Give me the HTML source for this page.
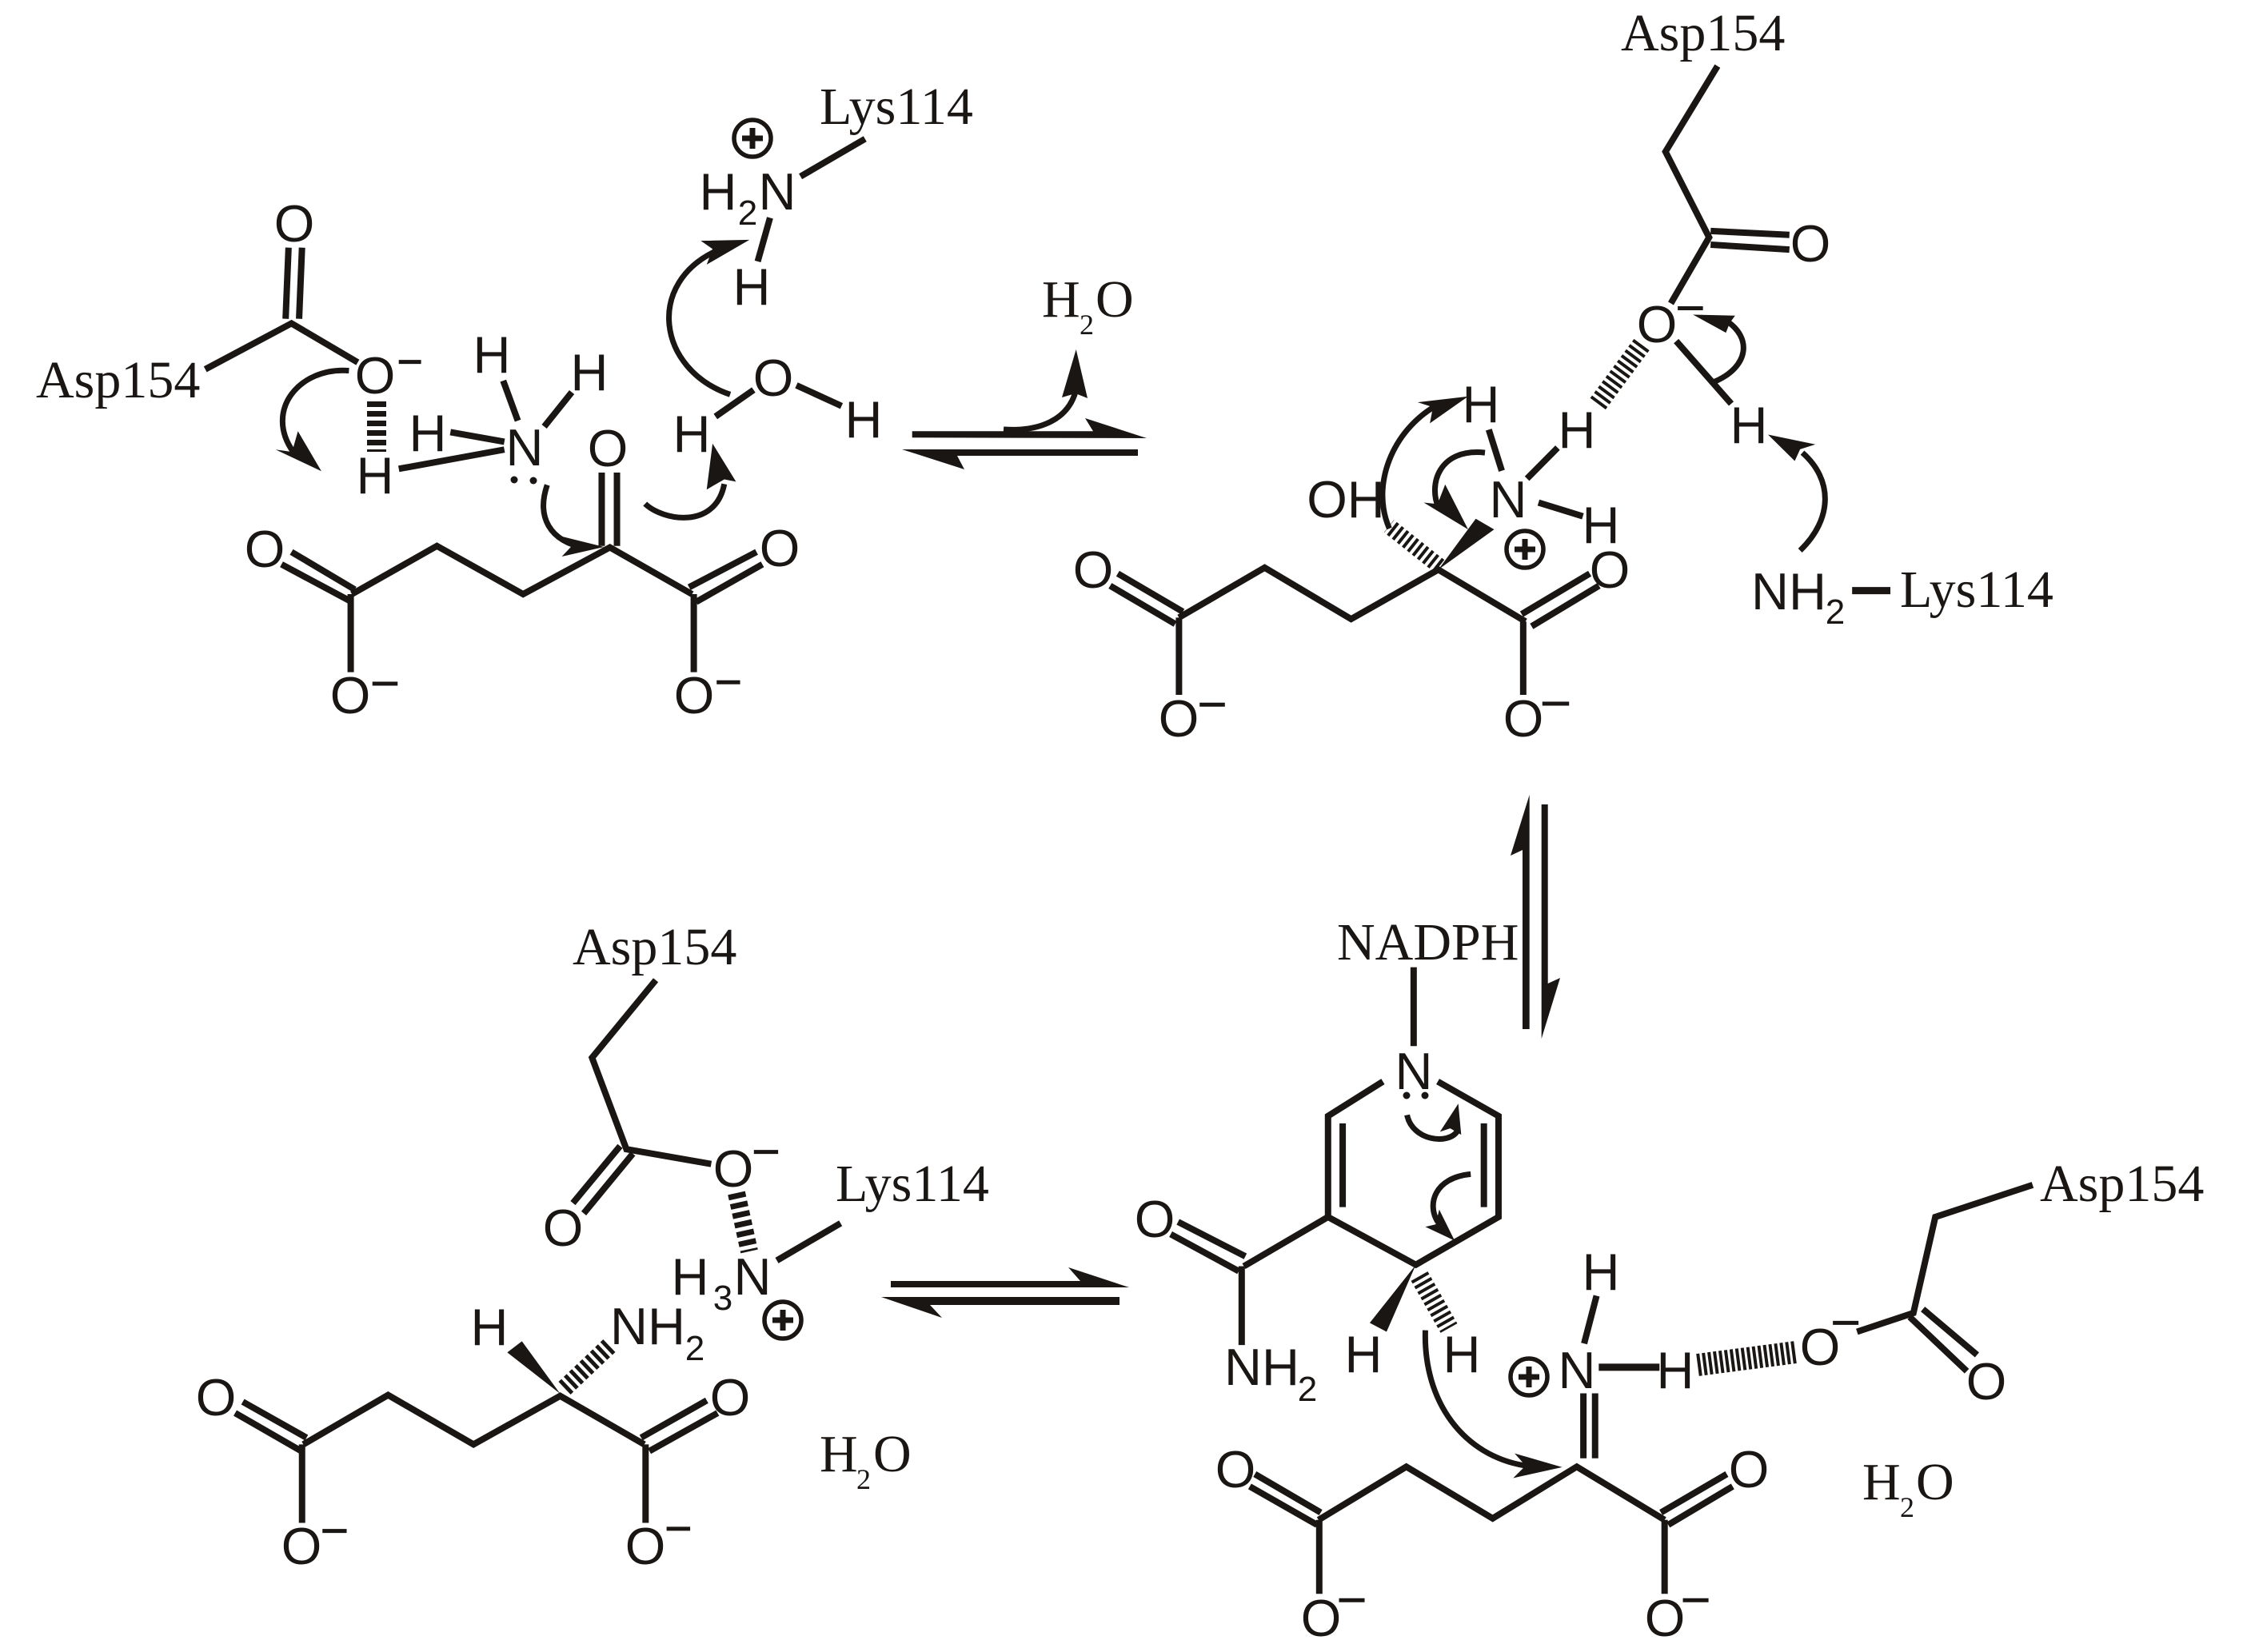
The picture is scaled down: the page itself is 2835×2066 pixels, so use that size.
<!DOCTYPE html>
<html>
<head>
<meta charset="utf-8">
<style>
html,body{margin:0;padding:0;background:#fff;}
svg{display:block;}
path,line,polyline{vector-effect:non-scaling-stroke;fill:none;stroke:#1a1614;stroke-width:8;stroke-linejoin:miter;}
polygon{fill:#1a1614;stroke:none;}
.a{stroke-width:7;}
.m{stroke-width:5;}
.s text,text.s{font-family:"Liberation Sans",sans-serif;font-size:65px;fill:#1a1614;text-anchor:middle;}
.sub{font-family:"Liberation Sans",sans-serif;font-size:44px;fill:#1a1614;text-anchor:middle;}
.r text{font-family:"Liberation Serif",serif;font-size:66px;fill:#1a1614;}
.r text.t2{font-size:36px;}
.h{stroke-width:24;}
</style>
</head>
<body>
<svg xmlns="http://www.w3.org/2000/svg" width="2835" height="2066" viewBox="0 0 2835 2066">
<defs>
<g id="plus"><circle r="23" fill="none" stroke="#1a1614" stroke-width="5.5"/><rect x="-13" y="-3.5" width="26" height="7" fill="#1a1614"/><rect x="-3.5" y="-13" width="7" height="26" fill="#1a1614"/></g>
</defs>
<rect width="2835" height="2066" fill="#fff"/>

<!-- Panel 1 -->
<g transform="translate(0,60) scale(.7334,.574)">
<path d="M350,700 L497,600 L610,685"/>
<path d="M487,590 L492,435 M510,590 L515,435"/>
<path d="M600,1190 L745,1085 L892,1190 L1040,1088 L1180,1190"/>
<path d="M480,1125 L600,1207 M497,1098 L605,1180"/>
<path d="M598,1190 L598,1360 M1183,1190 L1183,1360"/>
<path d="M1175,1175 L1290,1098 M1187,1207 L1300,1125"/>
<path d="M1026,1085 L1026,925 M1052,1085 L1052,925"/>
<path d="M858,725 L883,812 M975,750 L928,825 M768,837 L860,858 M680,917 L860,875"/>
<path d="M1365,280 L1475,198 M1313,370 L1292,465"/>
<path d="M1285,745 L1220,803 M1358,735 L1435,780"/>
<path class="m" d="M680,684 L718,684 M635,1385 L678,1385 M1222,1382 L1262,1382"/>
<path class="a" d="M595,703 C510,695 450,790 500,880"/>
<polygon points="548,922 470,875 498,880 508,835"/>
<path class="a" d="M933,952 C915,1020 935,1075 1000,1090"/>
<polygon points="1030,1087 960,1065 975,1085 958,1108"/>
<path class="a" d="M1100,993 C1130,1030 1220,1050 1235,950"/>
<polygon points="1215,862 1255,945 1235,940 1205,962"/>
<path class="a" d="M1245,755 C1120,700 1100,510 1225,440"/>
<polygon points="1278,418 1195,420 1215,438 1205,472"/>
</g>
<line class="h" x1="471" y1="502" x2="471" y2="565" style="stroke-dasharray:7 5"/>
<circle cx="643" cy="600" r="4.5" fill="#1a1614"/><circle cx="667" cy="601" r="4.5" fill="#1a1614"/>
<use href="#plus" x="941" y="173"/>
<g class="s">
<text x="368" y="302">O</text>
<text x="469" y="492">O</text>
<text x="469" y="617">H</text>
<text x="615" y="466">H</text>
<text x="737" y="488">H</text>
<text x="535" y="564">H</text>
<text x="656" y="582">N</text>
<text x="760" y="583">O</text>
<text x="331" y="709">O</text>
<text x="975" y="708">O</text>
<text x="438" y="892">O</text>
<text x="868" y="892">O</text>
<text x="898" y="262">H</text>
<text x="972" y="262">N</text>
<text x="940" y="381">H</text>
<text x="967" y="495">O</text>
<text x="865" y="565">H</text>
<text x="1080" y="547">H</text>
</g>
<text class="sub" x="935" y="281">2</text>
<g class="r">
<text x="45" y="497">Asp154</text>
<text x="1025" y="155">Lys114</text>
<text x="1303" y="396">H</text><text class="t2" x="1350" y="418">2</text><text x="1370" y="396">O</text>
</g>

<!-- Top equilibrium -->
<polygon points="1140.7,539.3 1367,539.3 1357,523 1434,548 1140.7,547.3"/>
<polygon points="1423,562 1128,562 1206,587 1197,570 1423,570"/>
<path class="a" d="M1255,537 C1300,540 1335,525 1345,490"/>
<polygon points="1345.7,437 1328,497 1345,492 1360,498"/>

<!-- Panel 2 -->
<g transform="translate(1130,0) scale(.9566,.612)">
<path d="M1064,135 L996,310 L1053,485 L1003,620"/>
<path d="M1055,472 L1158,480 M1055,500 L1158,510"/>
<path d="M765,878 L782,962 M855,915 L815,978 M830,1027 L888,1055"/>
<path d="M1010,697 L1082,825"/>
<path d="M360,1262 L472,1160 L585,1265 L699,1164 L813,1270"/>
<path d="M280,1172 L365,1250 M270,1197 L355,1275"/>
<path d="M808,1255 L897,1172 M821,1280 L909,1197"/>
<path d="M360,1262 L360,1420 M810,1270 L810,1420"/>
<path class="m" d="M1012,630 L1045,630 M387,1440 L420,1440 M835,1438 L870,1438"/>
<polygon points="699,1164 748,1060 772,1082"/>
<path class="a" d="M1060,780 C1105,750 1110,690 1075,655"/>
<polygon points="1032,643 1087,645 1080,660 1075,680"/>
<path class="a" d="M1172,1125 C1215,1060 1215,980 1175,925"/>
<polygon points="1130,888 1192,908 1172,918 1165,942"/>
<path class="a" d="M635,1080 C610,990 640,880 695,830"/>
<polygon points="738,810 672,822 692,832 688,865"/>
<path class="a" d="M760,925 C700,915 685,990 700,1040"/>
<polygon points="738,1082 680,1027 698,1030 708,990"/>
<path style="stroke-width:9" d="M1240,1207 L1290,1207"/>
</g>
<line class="h" x1="2053" y1="431" x2="1996" y2="508" style="stroke-dasharray:4 4"/>
<line class="h" x1="1800" y1="708" x2="1737" y2="658" style="stroke-width:20;stroke-dasharray:4 4"/>
<use href="#plus" x="1907" y="687"/>
<g class="s">
<text x="2264" y="327">O</text>
<text x="2072" y="428">O</text>
<text x="1972" y="560">H</text>
<text x="1852" y="528">H</text>
<text x="1886" y="647">N</text>
<text x="2002" y="679">H</text>
<text x="2187" y="554">H</text>
<text x="1683" y="647">OH</text>
<text x="1367" y="735">O</text>
<text x="2013" y="735">O</text>
<text x="1474" y="921">O</text>
<text x="1905" y="921">O</text>
<text x="2237" y="762">NH</text>
</g>
<text class="sub" x="2295" y="780">2</text>
<g class="r">
<text x="2027" y="63">Asp154</text>
<text x="2376" y="759">Lys114</text>
</g>

<!-- Vertical equilibrium -->
<polygon points="1912.7,994 1889,1070 1904,1063 1904,1287 1912.7,1287"/>
<polygon points="1927.7,1006 1935.7,1006 1935.7,1230 1951,1223 1927.7,1299"/>

<!-- Panel 3 (bottom right) -->
<g transform="translate(1400,1100) scale(.915,.616)">
<path d="M402,178 L402,338"/>
<path d="M360,410 L285,480 L285,685 L405,782 L518,685 L518,480 L435,410"/>
<path d="M305,495 L305,665 M498,495 L498,665"/>
<path d="M285,685 L170,785 M80,695 L172,765 M70,720 L163,795 M167,785 L167,945"/>
<polygon points="405,782 342,900 365,918"/>
<path class="a" d="M393,478 C400,530 450,540 462,510"/>
<polygon points="463,455 438,512 452,505 467,518"/>
<path class="a" d="M480,598 C430,605 420,660 435,695"/>
<polygon points="458,733 418,705 432,700 437,670"/>
<path class="a" d="M418,915 C415,1060 470,1170 555,1190"/>
<polygon points="605,1193 540,1165 555,1190 538,1215"/>
<path d="M652,845 L635,942"/>
<path style="stroke-width:9" d="M655,990 L738,990"/>
<path d="M634,1043 L634,1175 M650,1043 L650,1175"/>
<path d="M1248,620 L1115,685 L1085,880 L1008,918"/>
<path d="M1098,872 L1172,965 M1080,888 L1158,998"/>
<path d="M272,1300 L392,1192 L510,1297 L625,1192 L745,1300"/>
<path d="M185,1207 L275,1285 M178,1232 L270,1310"/>
<path d="M740,1285 L830,1207 M750,1310 L838,1232"/>
<path d="M273,1300 L273,1450 M745,1300 L745,1450"/>
<path class="m" d="M975,900 L1010,900 M300,1463 L335,1463 M770,1463 L805,1463"/>
</g>
<line class="h" x1="1775" y1="1596" x2="1812" y2="1661" style="stroke-dasharray:4 4"/>
<line class="h" x1="2123" y1="1707" x2="2246" y2="1691" style="stroke-width:28;stroke-dasharray:4 3"/>
<circle cx="1759" cy="1370" r="4.5" fill="#1a1614"/><circle cx="1782" cy="1370" r="4.5" fill="#1a1614"/>
<use href="#plus" x="1912" y="1722"/>
<g class="s">
<text x="1768" y="1362">N</text>
<text x="1444" y="1547">O</text>
<text x="1578" y="1732">NH</text>
<text x="1705" y="1716">H</text>
<text x="1828" y="1716">H</text>
<text x="2002" y="1613">H</text>
<text x="1972" y="1736">N</text>
<text x="2095" y="1736">H</text>
<text x="2276" y="1707">O</text>
<text x="2484" y="1750">O</text>
<text x="1545" y="1860">O</text>
<text x="2187" y="1860">O</text>
<text x="1652" y="2046">O</text>
<text x="2082" y="2046">O</text>
</g>
<text class="sub" x="1635" y="1752">2</text>
<g class="r">
<text x="1672" y="1200">NADPH</text>
<text x="2551" y="1502">Asp154</text>
<text x="2329" y="1875">H</text><text class="t2" x="2376" y="1897">2</text><text x="2396" y="1875">O</text>
</g>

<!-- Panel 4 (bottom left) -->
<g transform="translate(200,1150) scale(.797,.561)">
<path d="M778,135 L678,308 L732,512 L865,545"/>
<path d="M722,505 L648,632 M742,522 L665,655"/>
<path d="M1068,677 L968,760"/>
<path d="M225,1170 L358,1060 L492,1170 L628,1062 L760,1170"/>
<path d="M118,1100 L222,1185 M130,1075 L230,1155"/>
<path d="M755,1155 L858,1072 M768,1185 L875,1100"/>
<path d="M223,1170 L223,1345 M762,1170 L762,1345"/>
<path class="m" d="M932,518 L970,518 M255,1363 L293,1363 M795,1358 L832,1358"/>
<polygon points="628,1057 545,965 568,940"/>
</g>
<line class="h" x1="921" y1="1492" x2="937" y2="1565" style="stroke-width:22;stroke-dasharray:7 5"/>
<line class="h" x1="706" y1="1736" x2="762" y2="1683" style="stroke-width:22;stroke-dasharray:5 4"/>
<polygon points="1114,1602 1351,1602 1336,1585 1412,1610 1114,1610"/>
<polygon points="1400,1622 1102,1622 1178,1648 1163,1632 1400,1632"/>
<use href="#plus" x="979" y="1651"/>
<g class="s">
<text x="704" y="1558">O</text>
<text x="917" y="1484">O</text>
<text x="863" y="1619">H</text>
<text x="941" y="1619">N</text>
<text x="612" y="1682">H</text>
<text x="810" y="1681">NH</text>
<text x="270" y="1770">O</text>
<text x="913" y="1770">O</text>
<text x="377" y="1956">O</text>
<text x="807" y="1956">O</text>
</g>
<text class="sub" x="904" y="1638">3</text>
<text class="sub" x="869" y="1701">2</text>
<g class="r">
<text x="716" y="1206">Asp154</text>
<text x="1045" y="1502">Lys114</text>
<text x="1025" y="1840">H</text><text class="t2" x="1071" y="1862">2</text><text x="1092" y="1840">O</text>
</g>
</svg>
</body>
</html>
